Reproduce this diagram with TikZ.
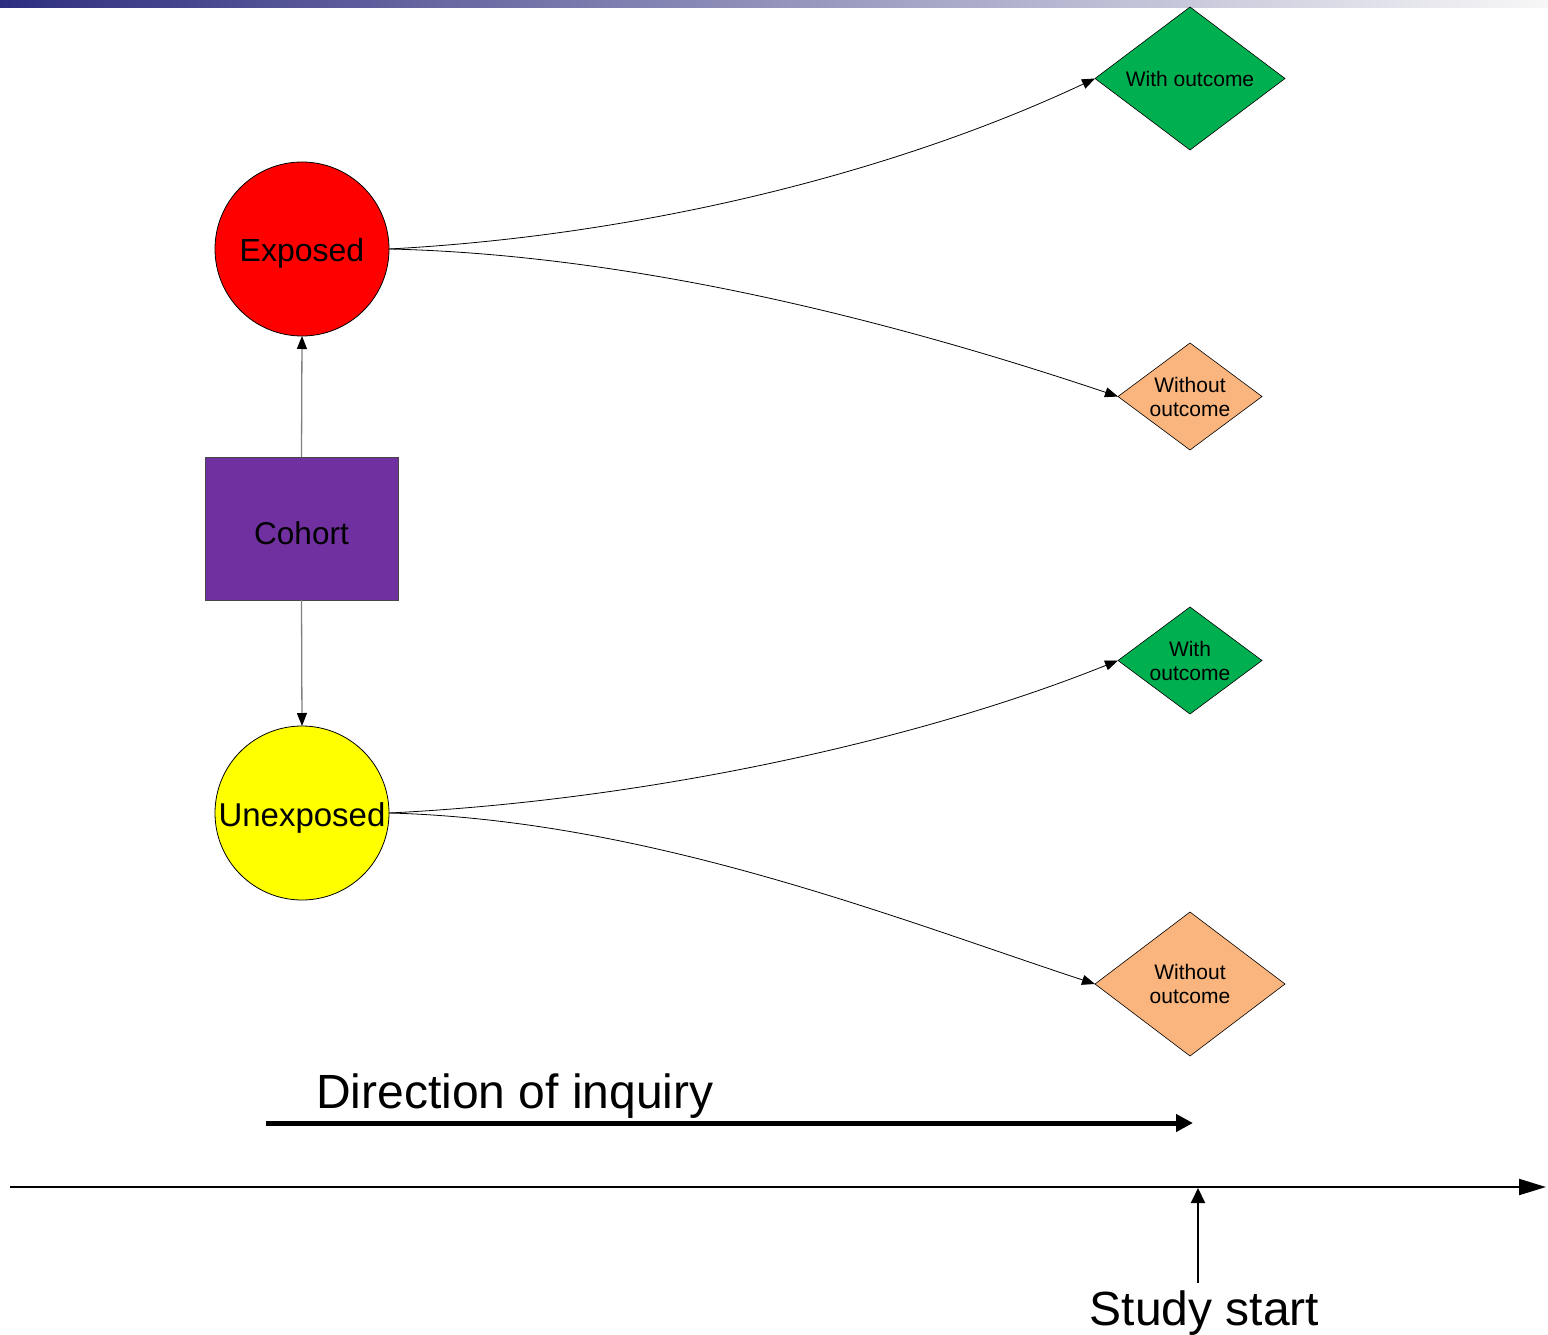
\documentclass[tikz,border=0pt]{standalone}
\usepackage{fontspec}
\setmainfont{Liberation Sans}
\usetikzlibrary{shapes.geometric,arrows.meta}
\definecolor{barblue}{HTML}{2E2E80}
\definecolor{cohortpurple}{HTML}{7030A0}
\definecolor{dgreen}{HTML}{00B050}
\definecolor{dorange}{HTML}{F9B57D}
\definecolor{linegray}{HTML}{808080}
\definecolor{pureyellow}{HTML}{FFFF00}
\definecolor{purered}{HTML}{FF0000}
\tikzset{
  circ/.style={circle, draw=black, line width=0.8pt, inner sep=0pt, outer sep=0pt, minimum size=174pt},
  dia/.style={diamond, draw=black, line width=0.6pt, inner sep=0pt, outer sep=0pt},
  diatext/.style={inner sep=0pt, align=center, font=\fontsize{21}{24}\selectfont},
  midtext/.style={inner sep=0pt, yshift=-4.5pt},
  cohortbox/.style={rectangle, fill=cohortpurple, draw={rgb,255:red,70;green,70;blue,70}, line width=0.6pt,
              minimum width=193pt, minimum height=143pt, inner sep=0pt, outer sep=0pt},
  smalltip/.style={-{Triangle[length=13pt,width=10pt]}},
  conn/.style={smalltip, draw=black, line width=0.8pt},
  vconn/.style={-{Triangle[length=13pt,width=10pt,color=black]}, draw=linegray, line width=1.3pt},
  bigtext/.style={inner sep=0pt, font=\fontsize{48}{54}\selectfont}
}
\begin{document}
\begin{tikzpicture}[x=1pt,y=-1pt]
\useasboundingbox (0,0) rectangle (1548,1335);
\shade[left color=barblue, right color=white!97!black] (0,0) rectangle (1548,8);

\node[circ, fill=purered, label={[midtext, font=\fontsize{32}{36}\selectfont]center:Exposed}] (exposed) at (302,249) {};
\node[cohortbox, label={[midtext, font=\fontsize{31.5}{36}\selectfont]center:Cohort}] (cohort) at (301.5,528.5) {};
\node[circ, fill=pureyellow, label={[midtext, font=\fontsize{33}{38}\selectfont]center:Unexposed}] (unexposed) at (302,813) {};

\node[dia, fill=dgreen, minimum width=190pt, minimum height=143pt,
      label={[diatext]center:With outcome}] (d1) at (1190,78.5) {};
\node[dia, fill=dorange, minimum width=144pt, minimum height=107pt,
      label={[diatext]center:Without\\outcome}] (d2) at (1190,396.5) {};
\node[dia, fill=dgreen, minimum width=144pt, minimum height=107pt,
      label={[diatext]center:With\\outcome}] (d3) at (1190,660.5) {};
\node[dia, fill=dorange, minimum width=190pt, minimum height=144pt,
      label={[diatext]center:Without\\outcome}] (d4) at (1190,984) {};

\draw[vconn] (cohort.north) -- (exposed.south);
\draw[vconn] (cohort.south) -- (unexposed.north);

\draw[conn] (exposed.east) .. controls (650,235) and (900,170) .. (d1.west);
\draw[conn] (exposed.east) .. controls (650,255) and (920,330) .. (d2.west);
\draw[conn] (unexposed.east) .. controls (650,800) and (920,740) .. (d3.west);
\draw[conn] (unexposed.east) .. controls (650,820) and (900,920) .. (d4.west);

\node[bigtext, anchor=base west] (dirlabel) at (316,1108) {Direction of inquiry};
\coordinate (dir0) at (266,1123);
\coordinate (dir1) at (1193,1123);
\draw[line width=5pt, -{Triangle[length=17pt,width=17pt]}] (dir0) -- (dir1);

\coordinate (tl0) at (10,1187);
\coordinate (tl1) at (1546,1187);
\draw[line width=2pt, -{Triangle[length=27pt,width=16pt]}] (tl0) -- (tl1);

\node[bigtext, anchor=base] (study) at (1204.5,1325) {Study start};
\coordinate (ss0) at (1198,1283);
\coordinate (ss1) at (1198,1188);
\draw[line width=2pt, -{Triangle[length=15pt,width=14pt]}] (ss0) -- (ss1);
\end{tikzpicture}
\end{document}
